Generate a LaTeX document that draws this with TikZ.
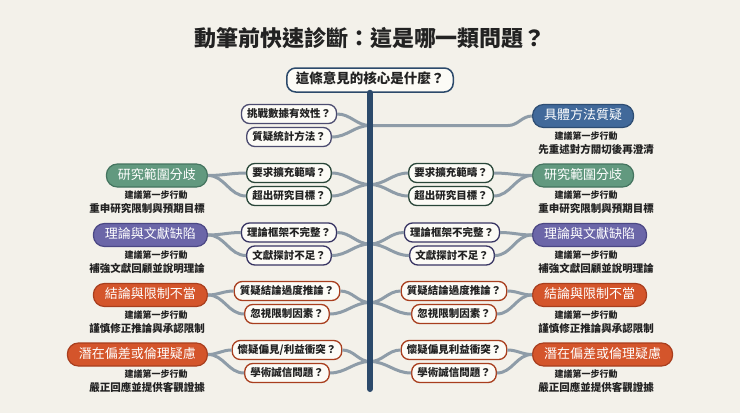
\documentclass[tikz,border=0pt]{standalone}
\usepackage{fontspec}
\setmainfont{Noto Sans CJK TC}
\usetikzlibrary{positioning}

\definecolor{paper}{HTML}{F3F1EA}
\definecolor{ink}{HTML}{222222}
\definecolor{navy}{HTML}{2C4A6B}
\definecolor{wire}{HTML}{8E9CA8}
\definecolor{card}{HTML}{FCFBF6}
\definecolor{bluefill}{HTML}{41699A}
\definecolor{blueline}{HTML}{2D4D73}
\definecolor{greenfill}{HTML}{62997F}
\definecolor{greenline}{HTML}{44745F}
\definecolor{purplefill}{HTML}{6B66A8}
\definecolor{purpleline}{HTML}{4B4784}
\definecolor{redfill}{HTML}{D4552B}
\definecolor{redline}{HTML}{A83E1E}

\begin{document}
\begin{tikzpicture}[x=1pt, y=-1pt]
  \tikzstyle{title} = [font=\bfseries\fontsize{22}{24}\selectfont, text=ink]
  \tikzstyle{root} = [rectangle, draw=navy, line width=1.5pt, fill=card, rounded corners=9pt, minimum height=24pt, inner xsep=9pt, inner ysep=0pt, text height=0.86em, text depth=0.1em, font=\bfseries\fontsize{13.5}{15}\selectfont, text=ink]
  \tikzstyle{ask} = [rectangle, line width=1.3pt, fill=card, rounded corners=8pt, minimum height=19pt, inner xsep=5.5pt, inner ysep=0pt, text height=0.86em, text depth=0.1em, font=\bfseries\fontsize{10.5}{12}\selectfont, text=ink]
  \tikzstyle{pill} = [rectangle, line width=1.2pt, rounded corners=11pt, minimum height=23pt, inner xsep=11.5pt, inner ysep=0pt, text height=0.86em, text depth=0.1em, font=\fontsize{13}{15}\selectfont, text=white]
  \tikzstyle{hint} = [font=\bfseries\fontsize{9}{10}\selectfont, text=ink]
  \tikzstyle{todo} = [font=\bfseries\fontsize{10.5}{12}\selectfont, text=ink]
  \tikzstyle{link} = [draw=wire, line width=3pt]
  \tikzstyle{spine} = [draw=navy, line width=6pt, line cap=round]

  \useasboundingbox[fill=paper] (0,0) rectangle (740,413);

  \node [title] (head) at (370,38) {動筆前快速診斷：這是哪一類問題？};
  \node [root] (core) at (370,80) {這條意見的核心是什麼？};

  % spine junctions
  \coordinate (j1) at (370,125.5);
  \coordinate (j2) at (370,184.5);
  \coordinate (j3) at (370,244);
  \coordinate (j4) at (370,302.5);
  \coordinate (j5) at (370,361.5);
  \coordinate (tail) at (370,389);
  \coordinate (bend1) at (508,125.5);

  % left questions
  \node [ask, draw=blue!20!black!70] (qL1a) at (289,114) {挑戰數據有效性？};
  \node [ask, draw=blue!20!black!70] (qL1b) at (289,137) {質疑統計方法？};
  \node [ask, draw=greenline!60!black] (qL2a) at (289,173) {要求擴充範疇？};
  \node [ask, draw=greenline!60!black] (qL2b) at (289,196) {超出研究目標？};
  \node [ask, draw=purpleline!75!black] (qL3a) at (289,232.5) {理論框架不完整？};
  \node [ask, draw=purpleline!75!black] (qL3b) at (289,255.5) {文獻探討不足？};
  \node [ask, draw=redline] (qL4a) at (287,291) {質疑結論過度推論？};
  \node [ask, draw=redline] (qL4b) at (287,314) {忽視限制因素？};
  \node [ask, draw=redline] (qL5a) at (287,350) {懷疑偏見/利益衝突？};
  \node [ask, draw=redline] (qL5b) at (287,373) {學術誠信問題？};

  % right questions
  \node [ask, draw=greenline!60!black] (qR2a) at (451,173) {要求擴充範疇？};
  \node [ask, draw=greenline!60!black] (qR2b) at (451,196) {超出研究目標？};
  \node [ask, draw=purpleline!75!black] (qR3a) at (452,232.5) {理論框架不完整？};
  \node [ask, draw=purpleline!75!black] (qR3b) at (452,255.5) {文獻探討不足？};
  \node [ask, draw=redline] (qR4a) at (454,291) {質疑結論過度推論？};
  \node [ask, draw=redline] (qR4b) at (454,314) {忽視限制因素？};
  \node [ask, draw=redline] (qR5a) at (454,350) {懷疑偏見利益衝突？};
  \node [ask, draw=redline] (qR5b) at (454,373) {學術誠信問題？};

  % left categories
  \node [pill, fill=greenfill, draw=greenline, anchor=east] (cL2) at (208,175.5) {研究範圍分歧};
  \node [pill, fill=purplefill, draw=purpleline, anchor=east] (cL3) at (208,235) {理論與文獻缺陷};
  \node [pill, fill=redfill, draw=redline, anchor=east] (cL4) at (208,295) {結論與限制不當};
  \node [pill, fill=redfill, draw=redline, anchor=east] (cL5) at (208,354.5) {潛在偏差或倫理疑慮};

  % right categories
  \node [pill, fill=bluefill, draw=blueline, anchor=west] (cR1) at (532,116) {具體方法質疑};
  \node [pill, fill=greenfill, draw=greenline, anchor=west] (cR2) at (532,175.5) {研究範圍分歧};
  \node [pill, fill=purplefill, draw=purpleline, anchor=west] (cR3) at (532,235) {理論與文獻缺陷};
  \node [pill, fill=redfill, draw=redline, anchor=west] (cR4) at (532,295) {結論與限制不當};
  \node [pill, fill=redfill, draw=redline, anchor=west] (cR5) at (532,354.5) {潛在偏差或倫理疑慮};

  % next-step notes
  \node [hint] (hL2) at (156,195.5) {建議第一步行動};
  \node [todo] (tL2) at (147,208.5) {重申研究限制與預期目標};
  \node [hint] (hL3) at (156,255) {建議第一步行動};
  \node [todo] (tL3) at (147,268) {補強文獻回顧並說明理論};
  \node [hint] (hL4) at (156,315) {建議第一步行動};
  \node [todo] (tL4) at (147,328) {謹慎修正推論與承認限制};
  \node [hint] (hL5) at (156,374.5) {建議第一步行動};
  \node [todo] (tL5) at (147,387.5) {嚴正回應並提供客觀證據};
  \node [hint] (hR1) at (586,136) {建議第一步行動};
  \node [todo] (tR1) at (596,149) {先重述對方關切後再澄清};
  \node [hint] (hR2) at (586,195.5) {建議第一步行動};
  \node [todo] (tR2) at (596,208.5) {重申研究限制與預期目標};
  \node [hint] (hR3) at (586,255) {建議第一步行動};
  \node [todo] (tR3) at (596,268) {補強文獻回顧並說明理論};
  \node [hint] (hR4) at (586,315) {建議第一步行動};
  \node [todo] (tR4) at (596,328) {謹慎修正推論與承認限制};
  \node [hint] (hR5) at (586,374.5) {建議第一步行動};
  \node [todo] (tR5) at (596,387.5) {嚴正回應並提供客觀證據};

  % left links
  \draw[link] (qL1a.east) to[out=0, in=180] (j1);
  \draw[link] (qL1b.east) to[out=0, in=180] (j1);
  \draw[link] (qL2a.east) to[out=0, in=180] (j2);
  \draw[link] (qL2b.east) to[out=0, in=180] (j2);
  \draw[link] (qL3a.east) to[out=0, in=180] (j3);
  \draw[link] (qL3b.east) to[out=0, in=180] (j3);
  \draw[link] (qL4a.east) to[out=0, in=180] (j4);
  \draw[link] (qL4b.east) to[out=0, in=180] (j4);
  \draw[link] (qL5a.east) to[out=0, in=180] (j5);
  \draw[link] (qL5b.east) to[out=0, in=180] (j5);
  \draw[link] (cL2.east) to[out=0, in=180] (qL2a.west);
  \draw[link] (cL2.east) to[out=0, in=180] (qL2b.west);
  \draw[link] (cL3.east) to[out=0, in=180] (qL3a.west);
  \draw[link] (cL3.east) to[out=0, in=180] (qL3b.west);
  \draw[link] (cL4.east) to[out=0, in=180] (qL4a.west);
  \draw[link] (cL4.east) to[out=0, in=180] (qL4b.west);
  \draw[link] (cL5.east) to[out=0, in=180] (qL5a.west);
  \draw[link] (cL5.east) to[out=0, in=180] (qL5b.west);

  % right links
  \draw[link] (j1) -- (bend1) to[out=0, in=180] (cR1.west);
  \draw[link] (j2) to[out=0, in=180] (qR2a.west);
  \draw[link] (j2) to[out=0, in=180] (qR2b.west);
  \draw[link] (j3) to[out=0, in=180] (qR3a.west);
  \draw[link] (j3) to[out=0, in=180] (qR3b.west);
  \draw[link] (j4) to[out=0, in=180] (qR4a.west);
  \draw[link] (j4) to[out=0, in=180] (qR4b.west);
  \draw[link] (j5) to[out=0, in=180] (qR5a.west);
  \draw[link] (j5) to[out=0, in=180] (qR5b.west);
  \draw[link] (qR2a.east) to[out=0, in=180] (cR2.west);
  \draw[link] (qR2b.east) to[out=0, in=180] (cR2.west);
  \draw[link] (qR3a.east) to[out=0, in=180] (cR3.west);
  \draw[link] (qR3b.east) to[out=0, in=180] (cR3.west);
  \draw[link] (qR4a.east) to[out=0, in=180] (cR4.west);
  \draw[link] (qR4b.east) to[out=0, in=180] (cR4.west);
  \draw[link] (qR5a.east) to[out=0, in=180] (cR5.west);
  \draw[link] (qR5b.east) to[out=0, in=180] (cR5.west);

  \draw[spine] (core.south) -- (tail);
\end{tikzpicture}
\end{document}
